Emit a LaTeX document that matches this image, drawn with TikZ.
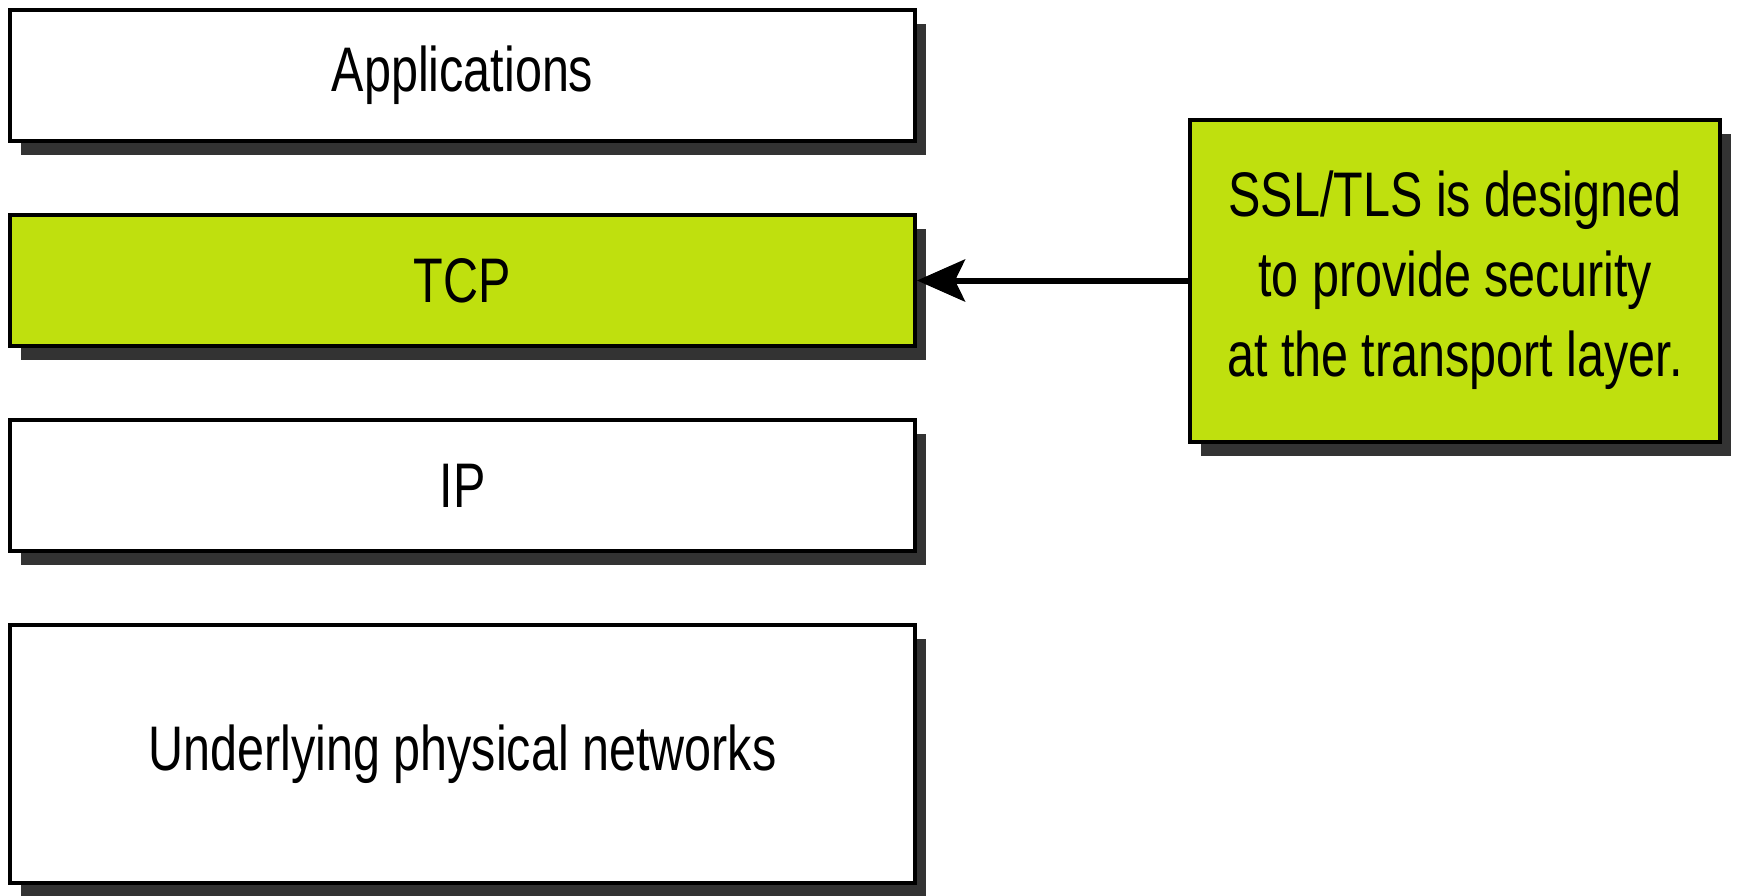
\documentclass[tikz,border=0pt]{standalone}
\usepackage{fontspec}
\setmainfont{Liberation Sans}[FakeStretch=0.77]
\usetikzlibrary{positioning, arrows.meta, shadows}
\definecolor{layergreen}{RGB}{191,224,14}
\definecolor{shadowgray}{RGB}{51,51,51}

\begin{document}
\begin{tikzpicture}[
  x=1bp, y=-1bp,
  >=Stealth,
  node distance=70bp and 271bp,
  layer/.style={draw, line width=4bp, fill=white, align=center, minimum width=905bp, minimum height=131bp, inner sep=0pt, font=\fontsize{63bp}{80bp}\selectfont, drop shadow={shadow xshift=11bp, shadow yshift=-14bp, fill=shadowgray, opacity=1}},
  note/.style={layer, fill=layergreen, minimum width=530bp, minimum height=322bp},
  line/.style={-{Stealth[length=48bp, width=42bp, inset=10bp]}, line width=6bp}
]
\useasboundingbox (0,0) rectangle (1738,895);

% Protocol stack
\node[layer] (apps) at (462.5,75.5) {Applications};
\node[layer, fill=layergreen, below=of apps] (tcp) {TCP};
\node[layer, below=of tcp] (ip) {IP};
\node[layer, minimum height=258bp, below=of ip] (phys) {Underlying physical networks};

% Note on the right
\node[note, right=of tcp] (ssl) {SSL/TLS is designed\\to provide security\\at the transport layer.};

% Arrow
\draw[line] (ssl) -- (tcp);
\end{tikzpicture}
\end{document}
